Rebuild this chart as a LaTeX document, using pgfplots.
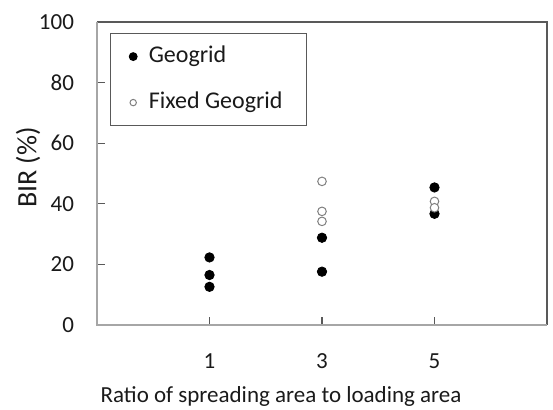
\documentclass[border=0pt]{standalone}
\usepackage{pgfplots}
\pgfplotsset{compat=1.18}
\usepackage{fontspec}
\setmainfont{Carlito}
\definecolor{axgray}{HTML}{A6A6A6}
\definecolor{boxgray}{HTML}{595959}
\definecolor{opengray}{HTML}{7F7F7F}
\definecolor{txt}{HTML}{1A1A1A}

\begin{document}
\begin{tikzpicture}
\begin{axis}[
    scale only axis,
    width=225pt, height=151.5pt,
    xmin=-1, xmax=7, ymin=0, ymax=100,
    xtick={1,3,5}, ytick={0,20,...,100},
    tick align=inside, tick pos=left,
    major tick length=4pt,
    axis line style={draw=none},
    tick style={boxgray, line width=0.6pt},
    clip=false,
    /pgf/number format/assume math mode=true,
    ticklabel style={font=\fontsize{11.5}{13}\selectfont, text=txt},
    yticklabel style={xshift=-8pt},
    xticklabel style={yshift=-11pt},
    xlabel={Ratio of spreading area to loading area},
    ylabel={BIR (\%)},
    xlabel style={font=\fontsize{11.5}{13}\selectfont, text=txt,
        at={(axis description cs:0.409,-0.257)}, anchor=base},
    ylabel style={font=\fontsize{14}{16}\selectfont, text=txt,
        at={(axis description cs:-0.153,0.52)}, anchor=center},
    legend style={at={(axis description cs:0.0289,0.9637)}, anchor=north west,
        draw=boxgray, line width=0.6pt, font=\fontsize{12}{14}\selectfont,
        text=txt, inner xsep=0pt, inner ysep=5.5pt, row sep=11pt,
        nodes={inner sep=0pt, text height=9pt, text depth=3pt}},
    legend cell align=left,
    legend image code/.code={%
        \path (0pt,0pt) (18.5pt,0pt);
        \draw[#1] plot coordinates {(11pt,0pt)};},
]
\addplot[only marks, mark=*, mark size=2.35pt, black,
    legend image post style={mark size=1.9pt}]
    coordinates {(1,22.3) (1,16.5) (1,12.6) (3,28.8) (3,17.6) (5,45.4) (5,36.7)};
\addlegendentry{Geogrid}
\addplot[only marks, mark=*, mark size=2.15pt, opengray, fill=white,
    mark options={fill=white, draw=opengray, line width=0.5pt},
    legend image post style={mark size=1.6pt}]
    coordinates {(3,47.4) (3,37.5) (3,34.2) (5,40.8) (5,38.7)};
\addlegendentry{Fixed Geogrid\rule{12pt}{0pt}}
\draw[boxgray, line width=0.6pt] (rel axis cs:0,1) -- (rel axis cs:1,1) -- (rel axis cs:1,0);
\draw[axgray, line width=0.8pt] (rel axis cs:0,1) -- (rel axis cs:0,0) -- (rel axis cs:1,0);
\coordinate (sw) at (rel axis cs:0,0);
\end{axis}
\pgfresetboundingbox
\path[use as bounding box] ([shift={(-48.5pt,-42.5pt)}]sw) rectangle ([shift={(228pt,162.5pt)}]sw);
\end{tikzpicture}
\end{document}
